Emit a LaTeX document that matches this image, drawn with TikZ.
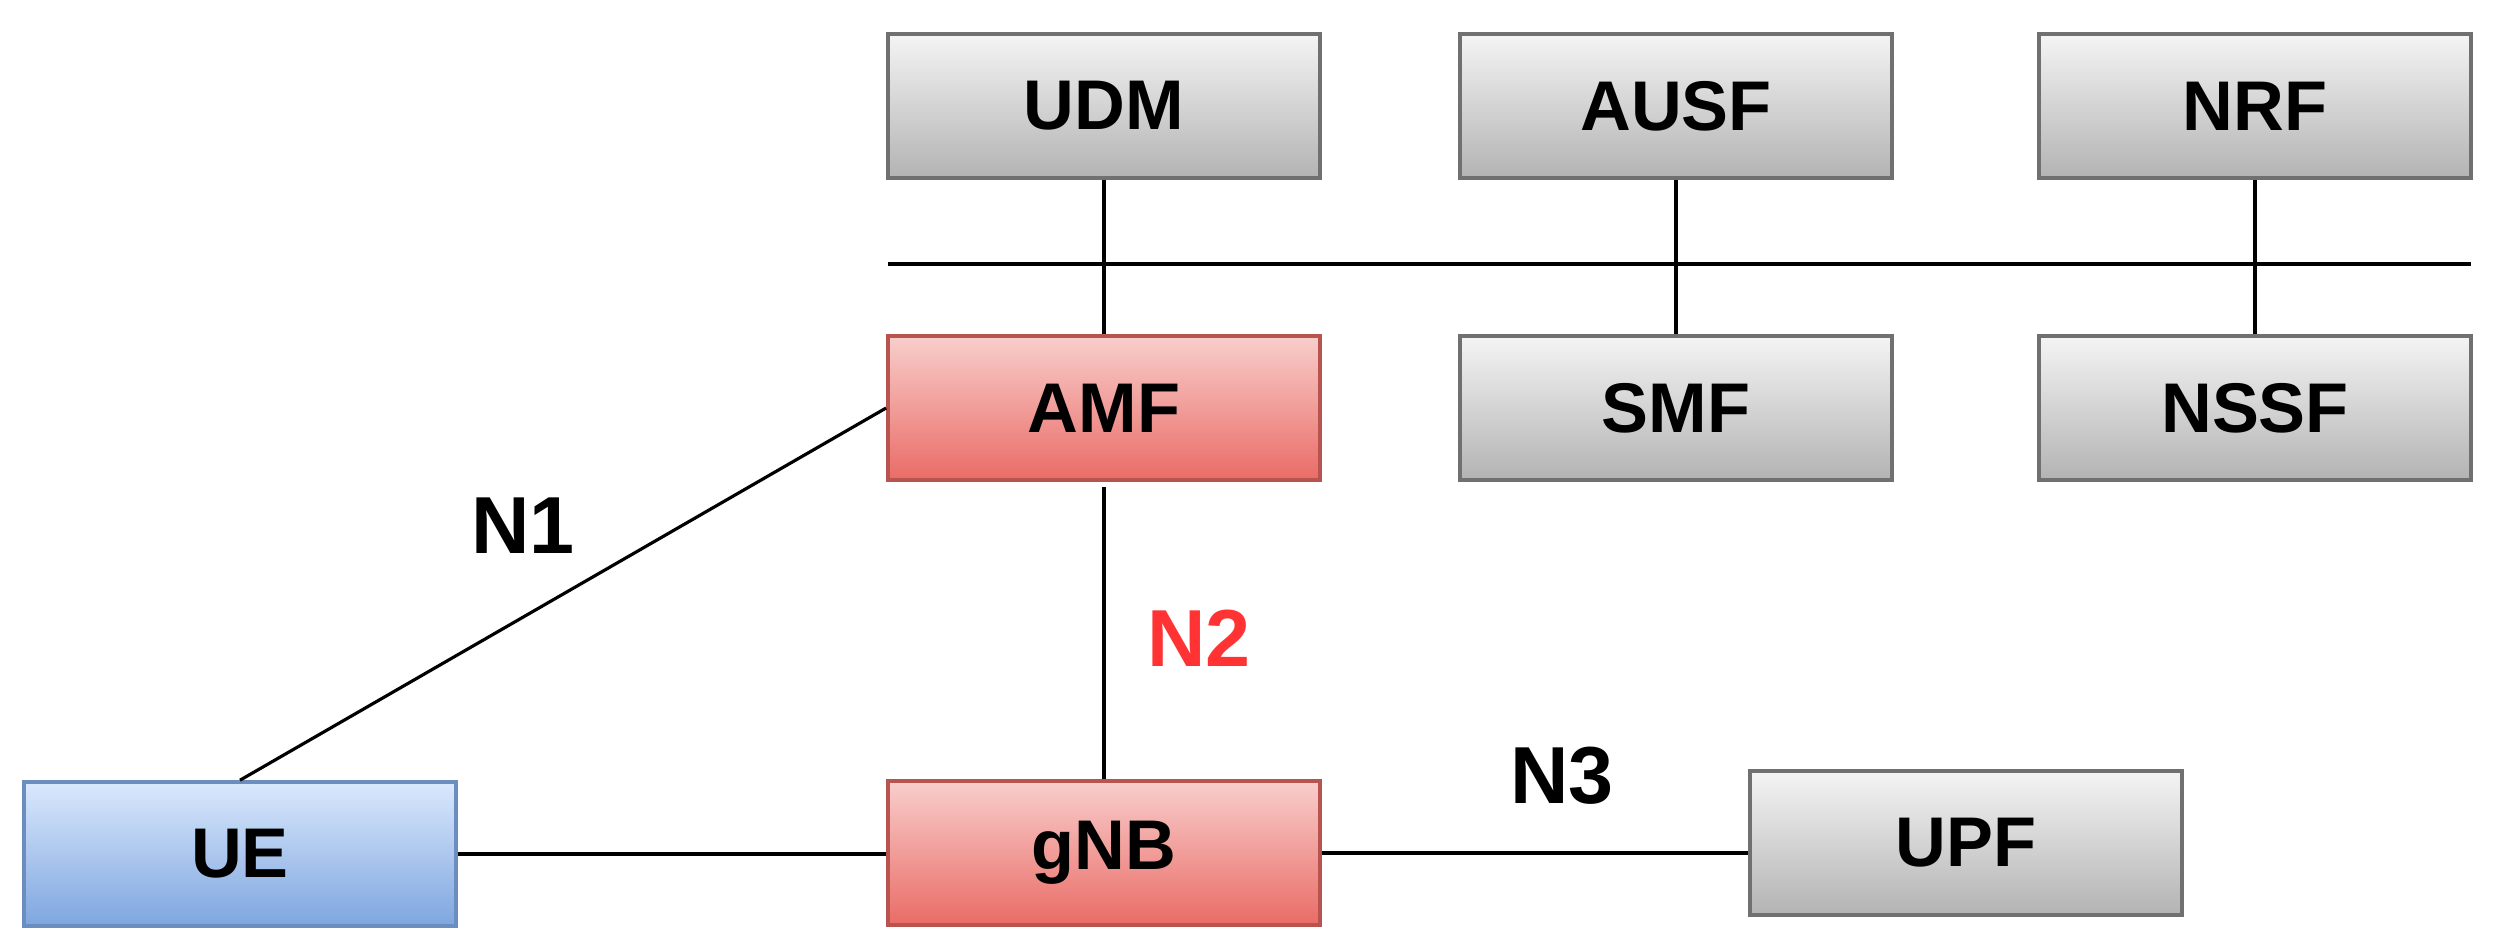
\documentclass[tikz,border=0pt]{standalone}
\usepackage{fontspec}
\setmainfont{Liberation Sans}
\usetikzlibrary{positioning}
\definecolor{grayline}{HTML}{707070}
\definecolor{graytop}{HTML}{F4F4F4}
\definecolor{graybot}{HTML}{B3B3B3}
\definecolor{redline}{HTML}{B85450}
\definecolor{redtop}{HTML}{F8CECC}
\definecolor{redbot}{HTML}{EA6B66}
\definecolor{blueline}{HTML}{6C8EBF}
\definecolor{bluetop}{HTML}{DAE8FC}
\definecolor{bluebot}{HTML}{7EA6E0}
\definecolor{nlabel}{HTML}{FF3333}
\tikzset{
  nfbox/.style={rectangle,line width=1pt,minimum width=4.32cm,minimum height=1.44cm,
    font=\fontsize{20}{24}\selectfont\bfseries,inner sep=0pt},
  graynf/.style={nfbox,draw=grayline,top color=graytop,bottom color=graybot},
  rednf/.style={nfbox,draw=redline,top color=redtop,bottom color=redbot},
  bluenf/.style={nfbox,draw=blueline,top color=bluetop,bottom color=bluebot},
  ilabel/.style={font=\fontsize{23}{27}\selectfont\bfseries},
  link/.style={line width=0.9pt}
}
\begin{document}
  \begin{tikzpicture}[x=0.01cm,y=-0.01cm]
    \useasboundingbox (0,0) rectangle (2499,951);
    \node[graynf] (udm) at (1104,106){UDM};
    \node[graynf] (ausf) at (1676,106){AUSF};
    \node[graynf] (nrf) at (2255,106){NRF};
    \node[rednf] (amf) at (1104,408){AMF};
    \node[graynf] (smf) at (1676,408){SMF};
    \node[graynf] (nssf) at (2255,408){NSSF};
    \node[bluenf] (ue) at (240,854){UE};
    \node[rednf] (gnb) at (1104,853){gNB};
    \node[graynf] (upf) at (1966,843){UPF};
    % service bus
    \coordinate (busw) at (888,264);
    \coordinate (buse) at (2471,264);
    \draw[link] (busw) -- (buse);
    \draw[link] (udm) -- (amf);
    \draw[link] (ausf) -- (smf);
    \draw[link] (nrf) -- (nssf);
    % interfaces
    \draw[link] (amf.west) -- (ue.north);
    \draw[link] ([yshift=-1.5pt]amf.south) -- (gnb.north);
    \draw[link] (ue.east) -- (ue.east -| gnb.west);
    \draw[link] (gnb.east) -- (gnb.east -| upf.west);
    \node[ilabel] (n1) at (523,526){N1};
    \node[ilabel,text=nlabel] (n2) at (1199,638){N2};
    \node[ilabel] (n3) at (1562,776){N3};
  \end{tikzpicture}
\end{document}
